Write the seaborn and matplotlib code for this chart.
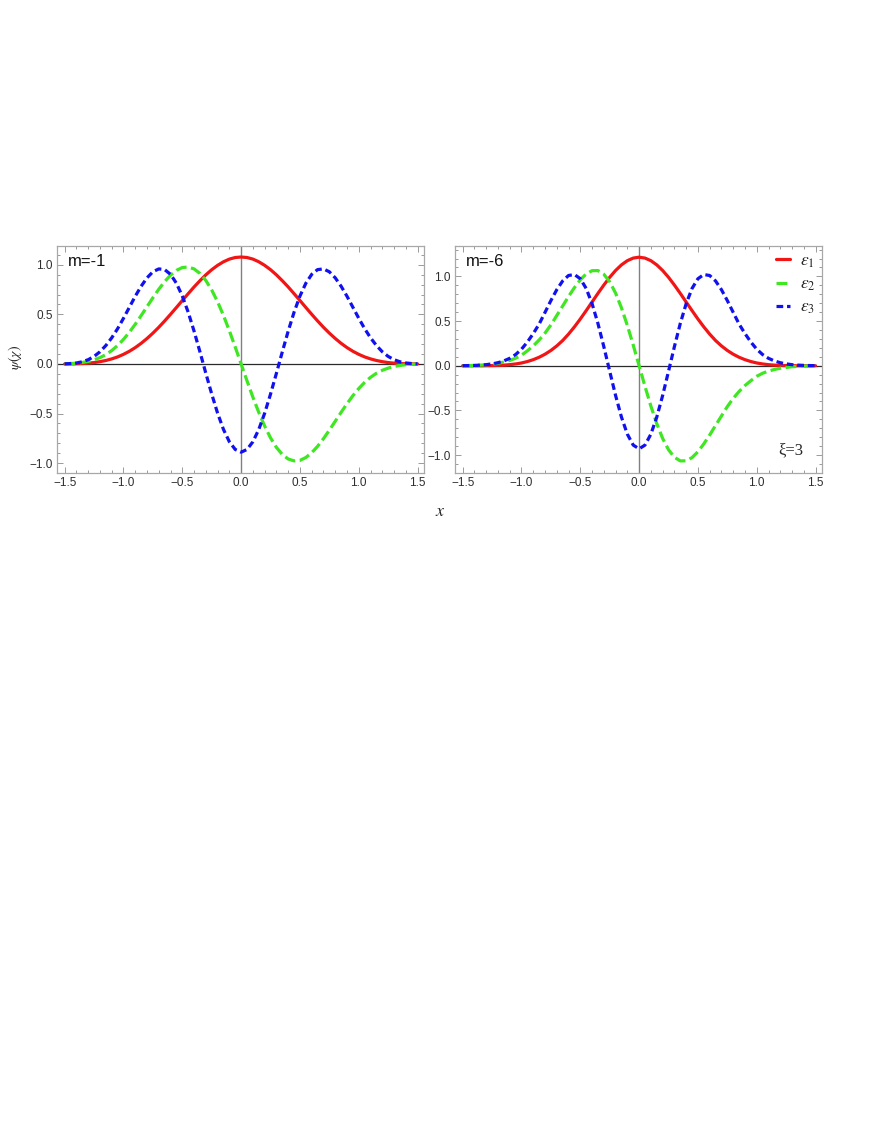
import numpy as np
import pandas as pd
import seaborn as sns
import matplotlib.pyplot as plt
from matplotlib.lines import Line2D
from matplotlib.ticker import MultipleLocator, FuncFormatter

# sample positions (x) shared by all curves
x_vals = [-1.50, -1.45, -1.40, -1.35, -1.30, -1.25, -1.20, -1.15, -1.10, -1.05,
          -1.00, -0.95, -0.90, -0.85, -0.80, -0.75, -0.70, -0.65, -0.60, -0.55,
          -0.50, -0.45, -0.40, -0.35, -0.30, -0.25, -0.20, -0.15, -0.10, -0.05,
          0.00, 0.05, 0.10, 0.15, 0.20, 0.25, 0.30, 0.35, 0.40, 0.45,
          0.50, 0.55, 0.60, 0.65, 0.70, 0.75, 0.80, 0.85, 0.90, 0.95,
          1.00, 1.05, 1.10, 1.15, 1.20, 1.25, 1.30, 1.35, 1.40, 1.45, 1.50]

# panel m=-1
m1_eps1 = [0.000, 0.001, 0.002, 0.004, 0.008, 0.014, 0.023, 0.035, 0.051, 0.071,
           0.097, 0.128, 0.165, 0.208, 0.257, 0.311, 0.370, 0.434, 0.501, 0.570,
           0.640, 0.709, 0.777, 0.840, 0.899, 0.951, 0.995, 1.031, 1.058, 1.074,
           1.079, 1.074, 1.058, 1.031, 0.995, 0.951, 0.899, 0.840, 0.777, 0.709,
           0.640, 0.570, 0.501, 0.434, 0.370, 0.311, 0.257, 0.208, 0.165, 0.128,
           0.097, 0.071, 0.051, 0.035, 0.023, 0.014, 0.008, 0.004, 0.002, 0.001, 0.000]
m1_eps2 = [0.001, 0.004, 0.008, 0.015, 0.026, 0.042, 0.064, 0.094, 0.135, 0.186,
           0.248, 0.320, 0.401, 0.488, 0.578, 0.668, 0.754, 0.831, 0.896, 0.944,
           0.973, 0.978, 0.959, 0.913, 0.842, 0.746, 0.627, 0.489, 0.335, 0.170,
           0.000, -0.170, -0.335, -0.489, -0.627, -0.746, -0.842, -0.913, -0.959, -0.978,
           -0.973, -0.944, -0.896, -0.831, -0.754, -0.668, -0.578, -0.488, -0.401, -0.320,
           -0.248, -0.186, -0.135, -0.094, -0.064, -0.042, -0.026, -0.015, -0.008, -0.004, -0.001]
m1_eps3 = [0.001, 0.004, 0.010, 0.022, 0.043, 0.076, 0.123, 0.186, 0.264, 0.356,
           0.461, 0.572, 0.683, 0.784, 0.869, 0.930, 0.959, 0.952, 0.904, 0.814,
           0.685, 0.522, 0.331, 0.122, -0.094, -0.304, -0.497, -0.661, -0.785, -0.863,
           -0.890, -0.863, -0.785, -0.661, -0.497, -0.304, -0.094, 0.122, 0.331, 0.522,
           0.685, 0.814, 0.904, 0.952, 0.959, 0.930, 0.869, 0.784, 0.683, 0.572,
           0.461, 0.356, 0.264, 0.186, 0.123, 0.076, 0.043, 0.022, 0.010, 0.004, 0.001]

# panel m=-6
m6_eps1 = [0.000, 0.000, 0.000, 0.000, 0.001, 0.002, 0.004, 0.007, 0.012, 0.020,
           0.031, 0.047, 0.068, 0.095, 0.129, 0.171, 0.222, 0.282, 0.354, 0.435,
           0.523, 0.617, 0.713, 0.810, 0.903, 0.990, 1.066, 1.129, 1.176, 1.205,
           1.215, 1.205, 1.176, 1.129, 1.066, 0.990, 0.903, 0.810, 0.713, 0.617,
           0.523, 0.435, 0.354, 0.282, 0.222, 0.171, 0.129, 0.095, 0.068, 0.047,
           0.031, 0.020, 0.012, 0.007, 0.004, 0.002, 0.001, 0.000, 0.000, 0.000, 0.000]
m6_eps2 = [0.001, 0.002, 0.004, 0.007, 0.011, 0.019, 0.028, 0.042, 0.059, 0.084,
           0.118, 0.167, 0.222, 0.288, 0.365, 0.457, 0.562, 0.668, 0.775, 0.874,
           0.962, 1.028, 1.064, 1.065, 1.024, 0.940, 0.813, 0.648, 0.451, 0.231,
           0.000, -0.231, -0.451, -0.648, -0.813, -0.940, -1.024, -1.065, -1.064, -1.028,
           -0.962, -0.874, -0.775, -0.668, -0.562, -0.457, -0.365, -0.288, -0.222, -0.167,
           -0.118, -0.084, -0.059, -0.042, -0.028, -0.019, -0.011, -0.007, -0.004, -0.002, -0.001]
m6_eps3 = [0.001, 0.002, 0.004, 0.007, 0.012, 0.021, 0.034, 0.054, 0.083, 0.125,
           0.185, 0.265, 0.360, 0.466, 0.597, 0.729, 0.851, 0.949, 1.010, 1.021,
           0.974, 0.865, 0.695, 0.473, 0.214, -0.062, -0.333, -0.575, -0.766, -0.888,
           -0.930, -0.888, -0.766, -0.575, -0.333, -0.062, 0.214, 0.473, 0.695, 0.865,
           0.974, 1.021, 1.010, 0.949, 0.851, 0.729, 0.597, 0.466, 0.360, 0.265,
           0.185, 0.125, 0.083, 0.054, 0.034, 0.021, 0.012, 0.007, 0.004, 0.002, 0.001]

states = [r'$\epsilon_1$', r'$\epsilon_2$', r'$\epsilon_3$']
panel_labels = ['m=-1', 'm=-6']
panel_data = [[m1_eps1, m1_eps2, m1_eps3], [m6_eps1, m6_eps2, m6_eps3]]
panel_ylim = [(-1.10, 1.19), (-1.20, 1.34)]

colors = {states[0]: '#f21515', states[1]: '#3fe622', states[2]: '#1010f0'}
dash_map = {states[0]: '', states[1]: (3.4, 1.4), states[2]: (2.1, 1.2)}

sns.set_style('ticks', {'xtick.direction': 'in', 'ytick.direction': 'in'})
plt.rcParams['font.family'] = ['Liberation Sans', 'DejaVu Sans']
plt.rcParams['mathtext.fontset'] = 'stix'

fig = plt.figure(figsize=(8.72, 11.28), dpi=100)
ax_pos = [[0.0654, 0.5807, 0.4209, 0.2012], [0.5218, 0.5807, 0.4209, 0.2012]]

minus_fmt = FuncFormatter(lambda v, p: f'{v:.1f}'.replace('-', '\u2212'))

for i in range(2):
    ax = fig.add_axes(ax_pos[i])
    rows = []
    for s, vals in zip(states, panel_data[i]):
        for xv, yv in zip(x_vals, vals):
            rows.append({'x': xv, 'psi': yv, 'state': s})
    df = pd.DataFrame(rows)

    ax.axhline(0, color='#2a2a2a', lw=0.9, zorder=1)
    ax.axvline(0, color='#808080', lw=1.0, zorder=1)

    sns.lineplot(data=df, x='x', y='psi', hue='state', style='state',
                 palette=colors, dashes=dash_map, linewidth=2.3,
                 legend=False, ax=ax, zorder=3)

    ax.set_xlim(-1.565, 1.555)
    ax.set_ylim(*panel_ylim[i])
    ax.set_xlabel('')
    ax.set_ylabel('')
    ax.xaxis.set_major_locator(MultipleLocator(0.5))
    ax.xaxis.set_minor_locator(MultipleLocator(0.1))
    ax.yaxis.set_major_locator(MultipleLocator(0.5))
    ax.yaxis.set_minor_locator(MultipleLocator(0.1))
    ax.xaxis.set_major_formatter(minus_fmt)
    ax.yaxis.set_major_formatter(minus_fmt)
    ax.tick_params(which='both', direction='in', top=True, right=True,
                   color='#9a9a9a', width=0.7, labelsize=8.5, labelcolor='#2e2e2e')
    ax.tick_params(which='major', length=4.5, pad=3)
    ax.tick_params(which='minor', length=2.5)
    for sp in ax.spines.values():
        sp.set_color('#a8a8a8')
        sp.set_linewidth(0.9)

    ax.text(0.03, 0.93, panel_labels[i], transform=ax.transAxes,
            fontsize=12, va='center', ha='left', color='#111111')

    if i == 1:
        handles = [Line2D([], [], color=colors[s], lw=2.3, dashes=dash_map[s] if dash_map[s] else (None, None))
                   for s in states]
        handles[0].set_linestyle('-')
        ax.legend(handles, states, loc='upper left', bbox_to_anchor=(0.875, 0.968),
                  frameon=False, fontsize=12.5, handlelength=0.8, handletextpad=0.6,
                  labelspacing=0.38, borderpad=0, borderaxespad=0)
        ax.text(0.88, 0.10, 'ξ=3', transform=ax.transAxes, fontsize=12,
                family=['Liberation Serif', 'DejaVu Serif'], va='center', ha='left')

fig.text(0.017, 0.6835, r'$\psi(\chi)$', rotation=90, fontsize=10, va='center', ha='center')
fig.text(0.505, 1 - 511 / 1128, r'$x$', fontsize=13, va='center', ha='center')

fig.savefig('out.png', dpi=100)
